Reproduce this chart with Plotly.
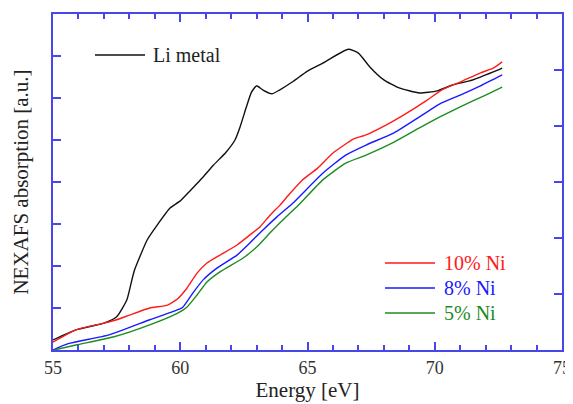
import plotly.graph_objects as go

# ---- data ----
li_x = [55.0, 55.9, 57.0, 57.5, 57.9, 58.1, 58.2, 58.7, 59.1, 59.6, 60.0, 60.4, 60.9, 61.3, 61.8,
        62.15, 62.35, 62.6, 62.8, 63.0, 63.25, 63.6, 63.9, 64.4, 65.0, 65.6, 66.6, 67.0, 67.45,
        68.0, 68.6, 69.4, 70.1, 70.7, 71.5, 72.3, 72.65]
li_y = [0.24, 0.48, 0.64, 0.79, 1.19, 1.67, 1.9, 2.62, 2.98, 3.38, 3.55, 3.8, 4.12, 4.4, 4.71,
        5.0, 5.31, 5.79, 6.14, 6.29, 6.19, 6.1, 6.19, 6.38, 6.64, 6.83, 7.16, 7.07, 6.74,
        6.43, 6.24, 6.12, 6.17, 6.31, 6.43, 6.62, 6.71]

ni10_x = [55.0, 55.9, 57.0, 57.5, 58.0, 58.8, 59.5, 59.9, 60.26, 60.66, 61.05, 61.56, 62.23,
          62.74, 63.13, 63.53, 63.92, 64.3, 64.8, 65.4, 66.0, 66.8, 67.3, 68.1, 68.9, 69.7,
          70.3, 71.0, 71.8, 72.3, 72.65]
ni10_y = [0.19, 0.48, 0.64, 0.72, 0.83, 1.0, 1.07, 1.22, 1.47, 1.83, 2.07, 2.26, 2.5,
          2.74, 2.93, 3.21, 3.45, 3.72, 4.05, 4.33, 4.69, 5.02, 5.12, 5.36, 5.64, 5.95,
          6.2, 6.38, 6.6, 6.71, 6.86]

ni8_x = [55.0, 55.6, 57.2, 58.8, 59.86, 60.1, 60.5, 60.9, 61.44, 62.23, 62.74, 63.25, 63.8,
         64.43, 65.6, 66.5, 67.3, 68.4, 69.4, 70.2, 71.0, 71.8, 72.65]
ni8_y = [0.0, 0.15, 0.36, 0.72, 0.95, 1.02, 1.36, 1.67, 1.95, 2.26, 2.55, 2.86, 3.17,
         3.5, 4.21, 4.64, 4.88, 5.17, 5.55, 5.86, 6.07, 6.29, 6.55]

ni5_x = [55.05, 55.9, 57.36, 58.8, 59.9, 60.26, 60.66, 61.05, 61.56, 62.47, 63.0, 63.53,
         64.04, 64.65, 65.6, 66.5, 67.3, 68.4, 69.4, 70.2, 71.0, 72.0, 72.65]
ni5_y = [0.0, 0.12, 0.31, 0.6, 0.88, 1.02, 1.31, 1.62, 1.86, 2.19, 2.45, 2.79,
         3.1, 3.45, 4.05, 4.45, 4.64, 4.95, 5.29, 5.55, 5.79, 6.07, 6.26]

series = [
    ("Li metal", li_x, li_y, "#111111"),
    ("10% Ni", ni10_x, ni10_y, "#ff1a1a"),
    ("8% Ni", ni8_x, ni8_y, "#1a1aff"),
    ("5% Ni", ni5_x, ni5_y, "#1e8c1e"),
]

AX = "rgb(70,70,235)"
FONT = "Liberation Serif"

fig = go.Figure()
for name, xs, ys, col in series:
    fig.add_trace(go.Scatter(x=xs, y=ys, mode="lines", name=name,
                             line=dict(color=col, width=1.4, shape="spline", smoothing=0.5),
                             showlegend=False))
# dummy trace for top/right axes
fig.add_trace(go.Scatter(x=[55], y=[0], xaxis="x2", yaxis="y2", mode="markers",
                         marker=dict(opacity=0), showlegend=False, hoverinfo="skip"))

xcommon = dict(range=[55, 75], showline=True, linecolor=AX, linewidth=2,
               ticks="inside", ticklen=8, tickwidth=1.5, tickcolor=AX, dtick=5,
               minor=dict(dtick=1, ticks="inside", ticklen=5, tickwidth=1.5, tickcolor=AX),
               showgrid=False, zeroline=False, automargin=False)
# the page body adds an 8px offset, so the figure is 8px smaller each way
fig.update_layout(
    width=565, height=396,
    margin=dict(l=45, r=11, t=6, b=54),
    paper_bgcolor="white", plot_bgcolor="white",
    font=dict(family=FONT, size=17, color="#333333"),
    xaxis=dict(**xcommon, tickfont=dict(size=18, color="#333333"),
               title=dict(text="Energy [eV]", font=dict(size=21, color="#222222"), standoff=4)),
    xaxis2=dict(**xcommon, overlaying="x", side="top", showticklabels=False),
    yaxis=dict(range=[0, 8], dtick=1, showline=True, linecolor=AX, linewidth=2,
               ticks="inside", ticklen=8, tickwidth=1.5, tickcolor=AX, showticklabels=False,
               showgrid=False, zeroline=False, automargin=False,
               title=dict(text="NEXAFS absorption [a.u.]", font=dict(size=21, color="#222222"),
                          standoff=17)),
    yaxis2=dict(range=[0, 6], dtick=1, overlaying="y", side="right", showline=True,
                linecolor=AX, linewidth=2, ticks="inside", ticklen=8, tickwidth=1.5,
                tickcolor=AX, showticklabels=False, showgrid=False, zeroline=False,
                automargin=False),
)

# hand-drawn style legends (paper coordinates, from page pixels)
def px2paper(px, py):
    return (px - 53) / (562 - 53), (350 - py) / (350 - 14)

legend_items = [
    ("Li metal", "#111111", 95, 145, 151, 55),
    ("10% Ni", "#ff1a1a", 385, 435, 442, 263),
    ("8% Ni", "#1a1aff", 385, 435, 442, 288),
    ("5% Ni", "#1e8c1e", 385, 435, 442, 313),
]
txtcol = {"Li metal": "#222222", "10% Ni": "#ff1a1a", "8% Ni": "#1a1aff", "5% Ni": "#1e8c1e"}
for name, col, x0, x1, xt, yy in legend_items:
    a0, b0 = px2paper(x0, yy)
    a1, _ = px2paper(x1, yy)
    at, _ = px2paper(xt, yy)
    fig.add_shape(type="line", xref="paper", yref="paper", x0=a0, x1=a1, y0=b0, y1=b0,
                  line=dict(color=col, width=1.4))
    fig.add_annotation(xref="paper", yref="paper", x=at, y=b0, text=name, showarrow=False,
                       xanchor="left", yanchor="middle",
                       font=dict(family=FONT, size=20, color=txtcol[name]))

fig.write_html("out.html")
